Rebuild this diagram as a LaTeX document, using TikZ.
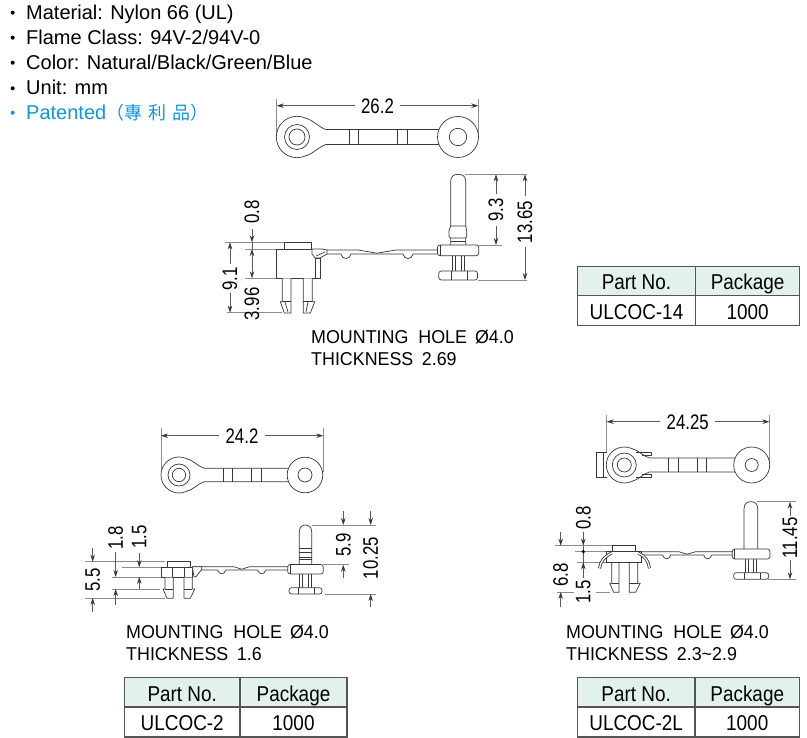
\documentclass[tikz,border=0pt]{standalone}
\usepackage{fontspec}
\usetikzlibrary{arrows.meta,calc}
\setmainfont{Liberation Sans}
\newfontfamily\dimfont[FakeStretch=0.8]{Liberation Sans}
\newfontfamily\holefont[FakeStretch=0.96]{Liberation Sans}
\newfontfamily\tabfont[FakeStretch=0.88]{Liberation Sans}
\newfontfamily\cjkfont{Noto Sans CJK TC}
\definecolor{inkc}{HTML}{383838}
\definecolor{extc}{HTML}{8C8C8C}
\definecolor{dimc}{HTML}{5A5A5A}
\definecolor{bluec}{HTML}{1695D6}
\definecolor{headc}{HTML}{E2F0EE}
\definecolor{tabc}{HTML}{555555}
\tikzset{
  part/.style={draw=inkc,line width=0.7pt,line join=round},
  partfill/.style={part,fill=white},
  extline/.style={draw=extc,line width=0.7pt},
  dimline/.style={draw=dimc,line width=0.7pt,-{Stealth[length=7pt,width=4.5pt,inkc]}},
  dimplain/.style={draw=dimc,line width=0.7pt},
  dimtext/.style={font=\dimfont\fontsize{21}{21}\selectfont,text=black,inner sep=0pt},
  vdimtext/.style={dimtext,rotate=90},
  listtext/.style={font=\fontsize{20}{20}\selectfont,anchor=base west,inner sep=0pt,text=black},
  holetext/.style={font=\holefont\fontsize{18.6}{22}\selectfont,anchor=north west,align=left,inner sep=0pt,text=black},
  tabtext/.style={font=\tabfont\fontsize{21.5}{21.5}\selectfont,text=black,inner sep=0pt,anchor=base},
  bulletdot/.style={fill=black},
}
% horizontal and vertical helpers
\newcommand\extH[3]{\draw[extline] (#1,#3) -- (#2,#3);}
\newcommand\extV[3]{\draw[extline] (#1,#2) -- (#1,#3);}
\newcommand\dimA[3]{\draw[dimline] (#1,#2) -- (#1,#3);}
% link top view: cxL cxR cy rL r1 r2 rR rHole barHalf
\newcommand\linkview[9]{%
  \draw[partfill] (#1,#3) circle[radius=#4pt];
  \path ({#1+0.423*#4},{#3-0.906*#4}) coordinate (ta)
        ({#1+0.423*#4},{#3+0.906*#4}) coordinate (tb)
        ({#1+1.4*#4},{#3-#9}) coordinate (tc)
        ({#1+1.4*#4},{#3+#9}) coordinate (td);
  \fill[white] (ta) .. controls ($(ta)+(6,1)$) and ($(tc)+(-6,-1.5)$) .. (tc) -- (td) .. controls ($(td)+(-6,1.5)$) and ($(tb)+(6,-1)$) .. (tb) -- cycle;
  \draw[part] (ta) .. controls ($(ta)+(6,1)$) and ($(tc)+(-6,-1.5)$) .. (tc) -- (#2,{#3-#9});
  \draw[part] (tb) .. controls ($(tb)+(6,-1)$) and ($(td)+(-6,1.5)$) .. (td) -- (#2,{#3+#9});
  \draw[part] (#1,#3) circle[radius=#5pt] (#1,#3) circle[radius=#6pt];
  \draw[partfill] (#2,#3) circle[radius=#7pt];
  \draw[part] (#2,#3) circle[radius=#8pt];
}
% pin side view: pinL pinR top flTop flBot flL flR bTop bBot
\newcommand\pinview[9]{%
  \draw[partfill] (#1,#4) -- (#1,{#3+7}) .. controls (#1,{#3+2}) and ({#1+3},#3) .. ({(#1+#2)/2},#3) .. controls ({#2-3},#3) and (#2,{#3+2}) .. (#2,{#3+7}) -- (#2,#4);
  \draw[part] ({(#1+#2)/2-5.7},#5) -- ({(#1+#2)/2-5.7},#8) ({(#1+#2)/2-2.9},#5) -- ({(#1+#2)/2-2.9},#8)
              ({(#1+#2)/2+2.9},#5) -- ({(#1+#2)/2+2.9},#8) ({(#1+#2)/2+5.7},#5) -- ({(#1+#2)/2+5.7},#8);
  \draw[partfill,rounded corners=2.5pt] (#6,#4) rectangle (#7,#5);
  \draw[part] ({#6+2.5},#4) -- ({#6+2.5},#5);
  \draw[partfill,rounded corners=2.5pt] ({#6+1.3},#8) rectangle ({#7-1.3},#9);
  \draw[part] ({(#1+#2)/2-7},#8) -- ({(#1+#2)/2-7},#9) ({(#1+#2)/2+9},#8) -- ({(#1+#2)/2+9},#9);
}
% strap: x1 x2 ytop ybot bump1 bump2 bumpradius
\newcommand\strap[7]{%
  \draw[part] (#1,#3) -- ({#5+12},#3) -- ({(#5+#6)/2},{#4-0.8}) -- ({#6-12},#3) -- (#2,#3);
  \draw[part] (#1,#4) -- ({#5-#7},#4) .. controls ({#5-#7+1},{#4+#7+1}) and ({#5+#7-1},{#4+#7+1}) .. ({#5+#7},#4)
     -- ({#6-#7},#4) .. controls ({#6-#7+1},{#4+#7+1}) and ({#6+#7-1},{#4+#7+1}) .. ({#6+#7},#4) -- (#2,#4);
}
% legs: xl xr ytop ybarb ybot
\newcommand\legL[5]{%
  \draw[partfill] (#1,#3) -- (#1,#4) -- ({#1-2},#4) -- ({#1+2},#5) -- (#2,#5) -- (#2,#3);
  \draw[part] (#1,#4) -- (#2,#4);
}
\newcommand\legR[5]{%
  \draw[partfill] (#2,#3) -- (#2,#4) -- ({#2+2.5},#4) -- ({#2-2},#5) -- (#1,#5) -- (#1,#3);
  \draw[part] (#1,#4) -- (#2,#4);
}
% table: x1 xm x2 y1 ym y2 part name
\newcommand\parttable[8]{%
  \fill[headc] (#1,#4) rectangle (#3,#5);
  \draw[draw=tabc,line width=1.1pt] (#1,#4) rectangle (#3,#6) (#1,#5) -- (#3,#5) (#2,#4) -- (#2,#6);
  \node[tabtext] (#8h1) at ({(#1+#2)/2},{#5-5.7}) {Part No.};
  \node[tabtext] (#8h2) at ({(#2+#3)/2},{#5-5.7}) {Package};
  \node[tabtext] (#8c1) at ({(#1+#2)/2},{#6-6.4}) {#7};
  \node[tabtext] (#8c2) at ({(#2+#3)/2},{#6-6.4}) {1000};
}
\begin{document}
\begin{tikzpicture}[x=1pt,y=-1pt]
\fill[white] (0,0) rectangle (807,738);
\path[use as bounding box] (0,0) rectangle (807,738);

% --- list
\fill[bulletdot] (12.7,12.7) circle[radius=2pt];
\fill[bulletdot] (12.7,37.7) circle[radius=2pt];
\fill[bulletdot] (12.7,62.7) circle[radius=2pt];
\fill[bulletdot] (12.7,88.3) circle[radius=2pt];
\fill[bluec] (12.7,112.7) circle[radius=2pt];
\node[listtext] (l1) at (26,20) {Material: Nylon 66 (UL)};
\node[listtext] (l2) at (26,45) {Flame Class: 94V-2/94V-0};
\node[listtext] (l3) at (26,69.5) {Color: Natural/Black/Green/Blue};
\node[listtext] (l4) at (26,95) {Unit: mm};
\node[listtext,text=bluec] (l5) at (26,119.5) {Patented\hspace{0.5pt}{\cjkfont\fontsize{18}{18}\selectfont （專\hspace{6pt}利\hspace{6pt}品）}};

% ===================== ULCOC-14
\extV{276.7}{99}{137}\extV{478.3}{99}{137}
\node[dimtext] (d262) at (377.5,106) {26.2};
\draw[dimline] (355,105.7) -- (276.7,105.7);
\draw[dimline] (400,105.7) -- (478.3,105.7);
\linkview{297}{458}{137}{20.7}{12.5}{8}{20.5}{8.7}{7.5}
\draw[part] (349,129.5) -- (349,144.5) (358.5,129.5) -- (358.5,144.5) (397,129.5) -- (397,144.5) (407,129.5) -- (407,144.5);

\extH{225}{284}{242.3}\extH{245}{277}{249}\extH{245}{277}{278.3}\extH{227}{282}{312.7}
\extH{465}{527}{174.3}\extH{479}{502}{245}\extH{478}{527}{280}
\draw[partfill] (284,242.3) rectangle (311,249);
\draw[partfill] (276.7,249) rectangle (315,278.3);
\draw[partfill] (315,258) rectangle (320.7,278.3);
\legL{282.3}{291}{278.3}{301.7}{313}
\legR{303.3}{312.3}{278.3}{301.7}{313}
\draw[part] (285,302) -- (288,312) (308,302) -- (306,312);
\strap{327}{438}{250}{254}{346}{408}{5}
\draw[partfill] (312,249) -- (322,249) -- (327,250) -- (327,254) -- (320,258) -- (315,258) -- (312,254) -- cycle;
\draw[part] (316,256) -- (325,252);
\pinview{450.7}{465.7}{174.3}{245}{255.7}{437.5}{478.8}{271}{280}
\draw[partfill] (450.7,226) -- (465.7,226) -- (466.7,230.7) -- (466.7,236.7) -- (465.7,238) -- (450.7,238) -- (449,236.7) -- (449,230.7) -- cycle;
\draw[part] (450.7,241) -- (465.7,241);

\node[vdimtext] (d08a) at (252,212) {0.8};
\dimA{252}{229}{242.3}
\draw[dimplain] (252,242.3) -- (252,249);
\draw[dimline,{Stealth[length=7pt,width=4.5pt,inkc]}-{Stealth[length=7pt,width=4.5pt,inkc]}] (252,249) -- (252,278.3);
\node[vdimtext] (d396a) at (252,304) {3.96};
\node[vdimtext] (d91a) at (230,279) {9.1};
\dimA{230}{264}{242.3}\dimA{230}{293}{312.7}
\node[vdimtext] (d93a) at (496,210) {9.3};
\dimA{496}{194}{174.3}\dimA{496}{226}{245}
\node[vdimtext] (d1365a) at (525,222) {13.65};
\dimA{525}{196}{174.3}\dimA{525}{247}{280}

\node[holetext] (h1) at (311,330) {MOUNTING\hspace{10pt}HOLE\hspace{8pt}Ø4.0\\THICKNESS\hspace{8.5pt}2.69};
\parttable{577.3}{695.7}{799.5}{266.7}{295.7}{325.7}{ULCOC-14}{ta}

% ===================== ULCOC-2
\extV{161}{428}{472}\extV{323.3}{428}{472}
\node[dimtext] (d242) at (242,436) {24.2};
\draw[dimline] (219,435.7) -- (161,435.7);
\draw[dimline] (265,435.7) -- (323.3,435.7);
\linkview{179}{305}{475}{18}{11}{6.7}{17.8}{7}{6.8}
\draw[part] (223.3,468.2) -- (223.3,481.8) (232.7,468.2) -- (232.7,481.8) (251.7,468.2) -- (251.7,481.8) (261.7,468.2) -- (261.7,481.8);

\extH{85}{165}{561.7}\extH{122}{165}{567.3}\extH{112}{162}{577}\extH{112}{160}{589}\extH{85}{165}{598}
\extH{312}{376}{525}\extH{323}{349}{564.7}\extH{325}{376}{594}
\strap{193}{288}{566.7}{570}{221.7}{261.7}{4}
\draw[partfill] (167.3,561.7) rectangle (190.7,567);
\draw[partfill] (161,567) rectangle (192.3,577.7);
\draw[part] (172.3,567) -- (172.3,577.7) (184,567) -- (184,577.7);
\legL{165}{173.3}{577.7}{589}{598.3}
\legR{184}{192.3}{577.7}{589}{598.3}
\draw[partfill] (192.3,566.7) -- (201.7,566.7) -- (201.7,569.5) -- (196,576.7) -- (194,576.7) -- cycle;
\pinview{299.3}{311.7}{525}{564.5}{574}{287.7}{323.3}{587.7}{594}
\draw[part] (299.3,548) -- (311.7,548) (299.3,552) -- (311.7,552) (299.3,557) -- (311.7,557) (299.3,559) -- (311.7,559);

\node[vdimtext] (d55b) at (92.7,580) {5.5};
\dimA{92.7}{548}{561.7}\dimA{92.7}{612}{598}
\node[vdimtext] (d18b) at (115.7,538) {1.8};
\dimA{115.7}{552}{577}\dimA{115.7}{605}{589}
\node[vdimtext] (d15b) at (139.3,537) {1.5};
\dimA{139.3}{553}{567.3}\dimA{139.3}{589}{577}
\node[vdimtext] (d59b) at (343.3,545) {5.9};
\dimA{343.3}{511}{525}\dimA{343.3}{578}{564.7}
\node[vdimtext] (d1025b) at (370.7,558) {10.25};
\dimA{370.7}{511}{525}\dimA{370.7}{607}{594}

\node[holetext] (h2) at (126,625) {MOUNTING\hspace{10pt}HOLE\hspace{8pt}Ø4.0\\THICKNESS\hspace{8.5pt}1.6};
\parttable{124.5}{240}{347}{677.5}{707}{737}{ULCOC-2}{tb}

% ===================== ULCOC-2L
\extV{606.7}{415}{465}\extV{769.3}{415}{465}
\node[dimtext] (d2425) at (687.7,422) {24.25};
\draw[dimline] (660,421.7) -- (606.7,421.7);
\draw[dimline] (715,421.7) -- (769.3,421.7);
\draw[partfill] (607,452.7) -- (596.7,452.7) -- (596.7,477.7) -- (607,477.7);
\draw[part] (603,452.7) -- (603,477.7);
\linkview{624.3}{751.7}{465}{18}{12}{7}{18}{6.5}{7}
\draw[part] (636,452.7) -- (651,452.7) -- (651,455.5) -- (642,455.5) (636,477.7) -- (651,477.7) -- (651,474.5) -- (642,474.5);
\draw[part] (668.3,458) -- (668.3,472) (678,458) -- (678,472) (697.3,458) -- (697.3,472) (706.7,458) -- (706.7,472);

\extH{555}{612}{545.7}\extH{575}{607}{551.7}\extH{577}{607}{562.3}\extH{557}{574}{592}\extH{596}{610}{592}
\extH{757}{796}{501.7}\extH{768}{796}{579.3}
\strap{641}{732}{551.7}{555}{666.7}{707.7}{4}
\legL{611.7}{619}{562.3}{583.3}{592.3}
\legR{629.3}{637.7}{562.3}{583.3}{592.3}
\draw[partfill] (606.7,551.7) rectangle (641,562.3);
\draw[partfill] (612.3,545.7) rectangle (635.7,551.7);
\draw[inkc,line width=1.5pt] (608,551.7) -- (640,551.7);
\draw[inkc,line width=3pt] (611.7,553) .. controls (605,556) and (600.5,561) .. (599.5,568.3);
\draw[white,line width=1.3pt] (611.7,553) .. controls (605,556) and (600.5,561) .. (599.5,568.3);
\draw[inkc,line width=3pt] (638.3,553) .. controls (645,556) and (648.5,561) .. (649.5,568.3);
\draw[white,line width=1.3pt] (638.3,553) .. controls (645,556) and (648.5,561) .. (649.5,568.3);
\pinview{744}{757.7}{501.7}{549}{559}{732.3}{770}{572.7}{579.3}

\node[vdimtext] (d08c) at (583.3,518) {0.8};
\dimA{583.3}{531.7}{545.7}
\draw[dimplain] (583.3,545.7) -- (583.3,578);
\fill[black] (583.3,551.7) circle[radius=1.8pt];
\dimA{583.3}{577}{562.3}
\node[vdimtext] (d15c) at (583.3,592) {1.5};
\node[vdimtext] (d68c) at (560.7,575) {6.8};
\dimA{560.7}{531.7}{545.7}\dimA{560.7}{607.3}{592}
\node[vdimtext] (d1145c) at (790,538) {11.45};
\dimA{790}{516}{501.7}\dimA{790}{560}{579.3}

\node[holetext] (h3) at (566,625) {MOUNTING\hspace{10pt}HOLE\hspace{8pt}Ø4.0\\THICKNESS\hspace{8.5pt}2.3\char`\~2.9};
\parttable{577.3}{695}{799.5}{677.5}{707}{737}{ULCOC-2L}{tc}
\end{tikzpicture}
\end{document}
